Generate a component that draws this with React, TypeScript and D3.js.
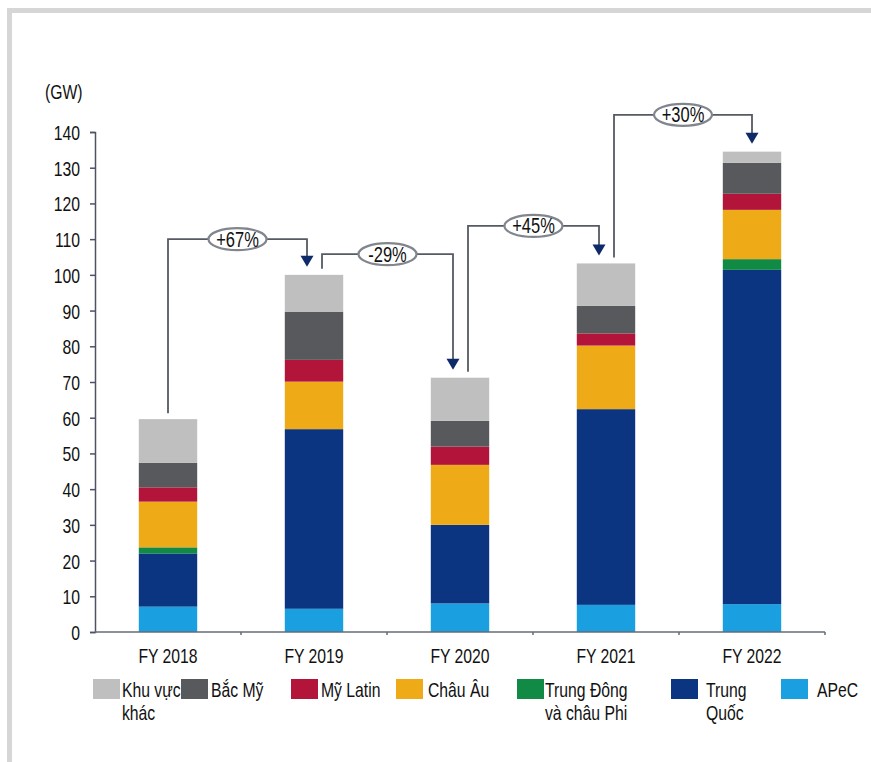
import React, { useEffect, useRef } from 'react'
import * as d3 from 'd3'

// Data (GW)
const years = ['FY 2018', 'FY 2019', 'FY 2020', 'FY 2021', 'FY 2022']
const regions = ['APeC', 'Trung Quốc', 'Trung Đông và châu Phi', 'Châu Âu', 'Mỹ Latin', 'Bắc Mỹ', 'Khu vực khác']
const apec = [7.1, 6.5, 8.0, 7.6, 7.8]
const trungQuoc = [14.9, 50.3, 22.0, 54.8, 93.6]
const trungDong = [1.7, 0, 0, 0, 3.0]
const chauAu = [12.8, 13.3, 16.8, 17.8, 13.8]
const myLatin = [4.0, 6.1, 5.1, 3.4, 4.5]
const bacMy = [6.9, 13.5, 7.2, 7.7, 8.7]
const khac = [12.2, 10.3, 12.1, 11.9, 3.1]
const yTicks = [0, 10, 20, 30, 40, 50, 60, 70, 80, 90, 100, 110, 120, 130, 140]

// Growth call-outs between consecutive years, and the GW level their connector runs at
const growthLabels = ['+67%', '-29%', '+45%', '+30%']
const growthLevels = [110, 105.8, 113.7, 144.8]

// Legend, in the order shown, with line breaks
const legendOrder = ['Khu vực khác', 'Bắc Mỹ', 'Mỹ Latin', 'Châu Âu', 'Trung Đông và châu Phi', 'Trung Quốc', 'APeC']
const legendLines = [['Khu vực', 'khác'], ['Bắc Mỹ'], ['Mỹ Latin'], ['Châu Âu'], ['Trung Đông', 'và châu Phi'], ['Trung', 'Quốc'], ['APeC']]

const colors: Record<string, string> = {
  'APeC': '#1a9fe0',
  'Trung Quốc': '#0b3580',
  'Trung Đông và châu Phi': '#108a45',
  'Châu Âu': '#efab17',
  'Mỹ Latin': '#b3143a',
  'Bắc Mỹ': '#58595c',
  'Khu vực khác': '#bfbfbf',
}

const FONT = "'Liberation Sans', Arial, sans-serif"
const SQUEEZE = 0.75 // the original uses a condensed face

// place a horizontally condensed text at (x, y)
function squeezedText(parent: d3.Selection<any, any, any, any>, x: number, y: number, size: number, anchor = 'start') {
  return parent.append('text')
    .attr('transform', `translate(${x},${y}) scale(${SQUEEZE},1)`)
    .attr('text-anchor', anchor)
    .attr('fill', '#111')
    .style('font-family', FONT)
    .style('font-size', `${size}px`)
}

export default function App() {
  const svgRef = useRef<SVGSVGElement>(null)

  useEffect(() => {
    if (!svgRef.current) return
    const svg = d3.select(svgRef.current)
    svg.selectAll('*').remove()

    const W = 871
    const H = 762

    // background + frame (top and left edges visible)
    svg.append('rect').attr('width', W).attr('height', H).attr('fill', '#ffffff')
    svg.append('rect').attr('x', 7).attr('y', 8).attr('width', W - 7).attr('height', 5).attr('fill', '#d6d6d6')
    svg.append('rect').attr('x', 7).attr('y', 8).attr('width', 5).attr('height', H - 8).attr('fill', '#d6d6d6')

    const x = d3.scaleBand<string>()
      .domain(years)
      .range([95, 825])
      .paddingInner(0.6)
      .paddingOuter(0.3)

    const y = d3.scaleLinear().domain([0, 140]).range([632, 132])

    const series = [apec, trungQuoc, trungDong, chauAu, myLatin, bacMy, khac]
    const rows = years.map((yr, i) => {
      const r: Record<string, any> = { year: yr }
      regions.forEach((reg, k) => { r[reg] = series[k][i] })
      return r
    })
    const stacked = d3.stack<Record<string, any>>().keys(regions)(rows)

    // bars
    const layers = svg.append('g').selectAll('g')
      .data(stacked)
      .enter()
      .append('g')
      .attr('fill', d => colors[d.key])

    layers.selectAll('rect')
      .data(d => d)
      .enter()
      .append('rect')
      .attr('x', d => x(d.data.year) as number)
      .attr('width', x.bandwidth())
      .attr('y', d => y(d[1]))
      .attr('height', d => Math.max(0, y(d[0]) - y(d[1])))

    // y axis
    const yAxis = svg.append('g')
      .attr('transform', 'translate(95,0)')
      .call(d3.axisLeft(y).tickValues(yTicks).tickSize(5).tickPadding(10))
    yAxis.select('.domain').attr('stroke', '#4d5364').attr('stroke-width', 1.5)
    yAxis.selectAll('.tick line').attr('stroke', '#4d5364').attr('stroke-width', 1.5)
    yAxis.selectAll('.tick text')
      .attr('fill', '#111')
      .attr('x', -15 / SQUEEZE)
      .attr('dy', '0.36em')
      .attr('transform', `scale(${SQUEEZE},1)`)
      .style('font-family', FONT)
      .style('font-size', '21px')

    squeezedText(svg, 45, 99, 21).text('(GW)')

    // x axis
    svg.append('line')
      .attr('x1', 95).attr('x2', 825)
      .attr('y1', y(0)).attr('y2', y(0))
      .attr('stroke', '#666b76').attr('stroke-width', 1.5)

    svg.selectAll('.xsep')
      .data(years)
      .enter()
      .append('line')
      .attr('class', 'xsep')
      .attr('x1', d => (x(d) as number) + x.bandwidth() / 2 + x.step() / 2)
      .attr('x2', d => (x(d) as number) + x.bandwidth() / 2 + x.step() / 2)
      .attr('y1', y(0))
      .attr('y2', y(0) + 3)
      .attr('stroke', '#666b76')
      .attr('stroke-width', 1.5)

    years.forEach(yr => {
      squeezedText(svg, (x(yr) as number) + x.bandwidth() / 2, 663, 21, 'middle').text(yr)
    })

    // growth connectors
    const totals = years.map((_, i) => d3.sum(series, s => s[i]))
    const cx = (i: number) => (x(years[i]) as number) + x.bandwidth() / 2

    growthLabels.forEach((label, i) => {
      const x0 = cx(i) + (i === 0 ? 0 : 8)
      const x1 = cx(i + 1) + (i + 1 === years.length - 1 ? 0 : -7)
      const yl = y(growthLevels[i])
      const yStart = y(totals[i]) - 6
      const yTip = y(totals[i + 1]) - 8
      const g = svg.append('g')

      g.append('path')
        .attr('d', `M${x0},${yStart} V${yl} H${x1} V${yTip - 8}`)
        .attr('fill', 'none')
        .attr('stroke', '#555a63')
        .attr('stroke-width', 1.8)

      g.append('path')
        .attr('d', `M${x1 - 6.5},${yTip - 11} L${x1 + 6.5},${yTip - 11} L${x1},${yTip} Z`)
        .attr('fill', '#0e2a68')

      const mx = (x0 + x1) / 2
      g.append('ellipse')
        .attr('cx', mx).attr('cy', yl)
        .attr('rx', 29).attr('ry', 11)
        .attr('fill', '#ffffff')
        .attr('stroke', '#80858e')
        .attr('stroke-width', 2.2)

      squeezedText(g, mx, yl + 7.5, 22, 'middle').text(label)
    })

    // legend
    const legendX = [93, 181, 291, 396, 517, 671, 781]
    const textGap = [2, 3, 3, 5, 1, 8, 9]
    legendOrder.forEach((key, i) => {
      const g = svg.append('g').attr('transform', `translate(${legendX[i]},679)`)
      g.append('rect')
        .attr('width', 27).attr('height', 20)
        .attr('fill', colors[key])
      const t = squeezedText(g, 27 + textGap[i], 18, 21)
      t.selectAll('tspan')
        .data(legendLines[i])
        .enter()
        .append('tspan')
        .attr('x', 0)
        .attr('dy', (_, j) => (j === 0 ? 0 : 23))
        .text(d => d)
    })
  }, [])

  return (
    <svg
      ref={svgRef}
      width={871}
      height={762}
      style={{ position: 'absolute', left: 0, top: 0, display: 'block' }}
    />
  )
}
